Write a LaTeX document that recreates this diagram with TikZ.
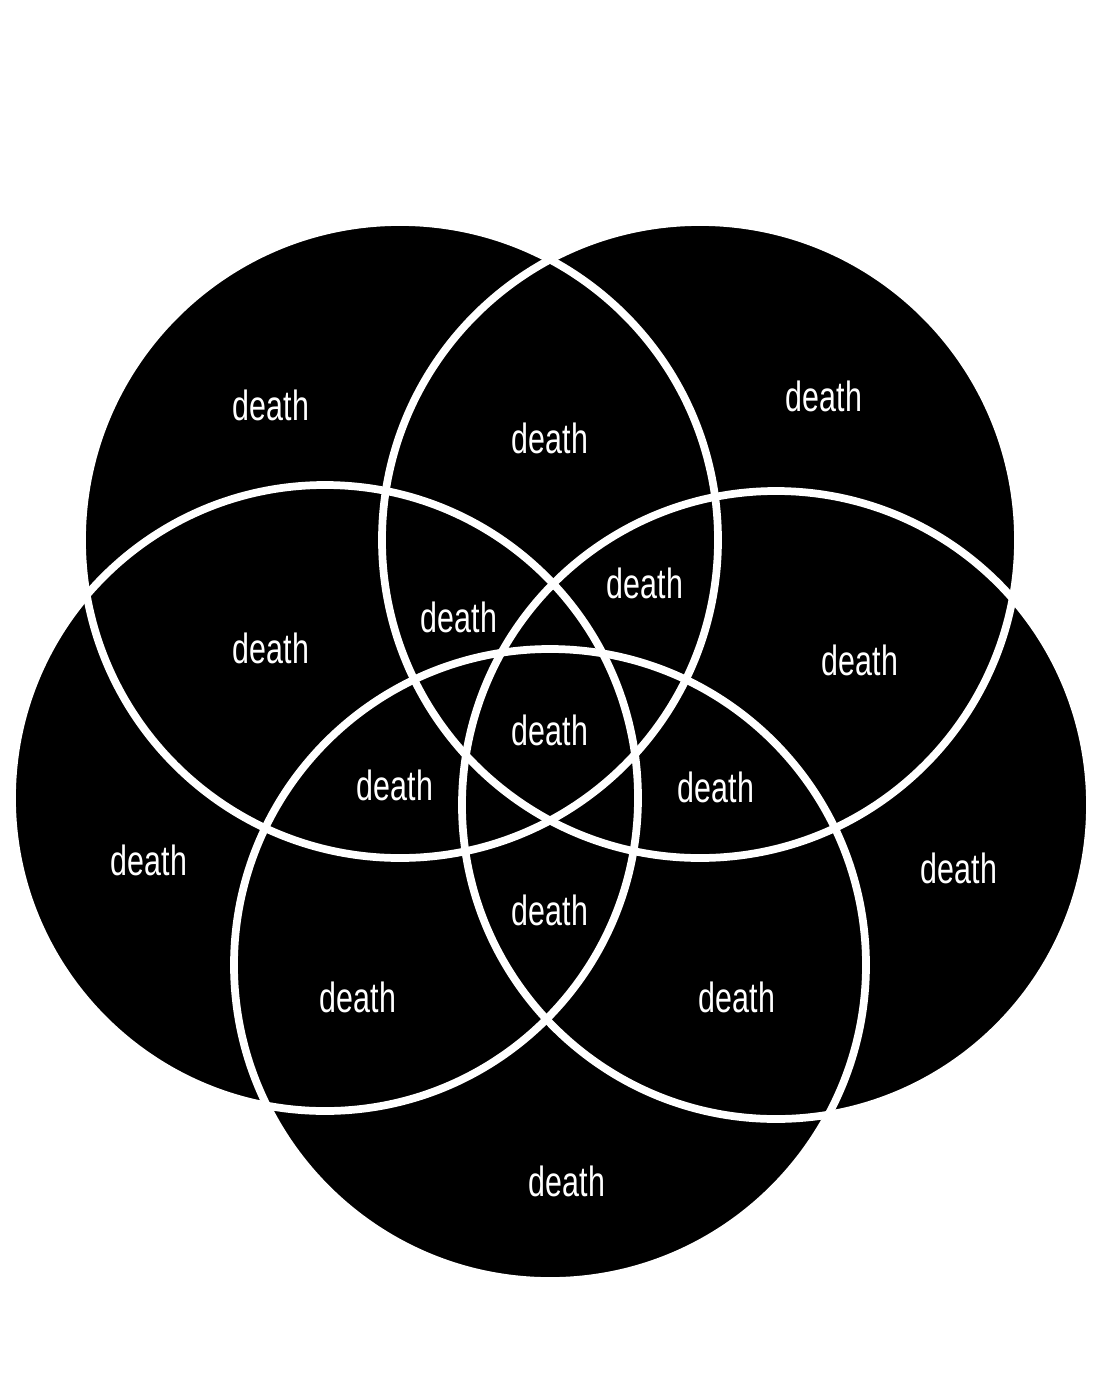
\documentclass[tikz,border=0pt]{standalone}
\usepackage{fontspec}
\setmainfont[FakeStretch=0.72]{Liberation Sans}
\begin{document}
\begin{tikzpicture}[x=0.01cm, y=-0.01cm]
  \tikzset{lbl/.style={text=white, font=\fontsize{12}{14}\selectfont, inner sep=0pt}}
  \useasboundingbox (0,0) rectangle (1109,1387);

  % circles
  \foreach \cx/\cy/\r in {400/540/318, 700/540/318, 325/798/313, 776/805/314, 550/965/316}
    \fill[black] (\cx,\cy) circle (\r);
  \foreach \cx/\cy/\r in {400/540/318, 700/540/318, 325/798/313, 776/805/314, 550/965/316}
    \draw[white, line width=2.2pt] (\cx,\cy) circle (\r);

  % labels
  \node[lbl] at (271,405)  (tl)  {death};
  \node[lbl] at (824,396)  (tr)  {death};
  \node[lbl] at (550,438)  (tm)  {death};
  \node[lbl] at (271,648)  (ml)  {death};
  \node[lbl] at (459,617)  (mli) {death};
  \node[lbl] at (645,583)  (mri) {death};
  \node[lbl] at (860,660)  (mr)  {death};
  \node[lbl] at (550,730)  (c)   {death};
  \node[lbl] at (395,785)  (cl)  {death};
  \node[lbl] at (716,787)  (cr)  {death};
  \node[lbl] at (149,860)  (ol)  {death};
  \node[lbl] at (959,868)  (or)  {death};
  \node[lbl] at (550,910)  (cb)  {death};
  \node[lbl] at (358,997)  (bl)  {death};
  \node[lbl] at (737,997)  (br)  {death};
  \node[lbl] at (567,1181) (b)   {death};
\end{tikzpicture}
\end{document}
